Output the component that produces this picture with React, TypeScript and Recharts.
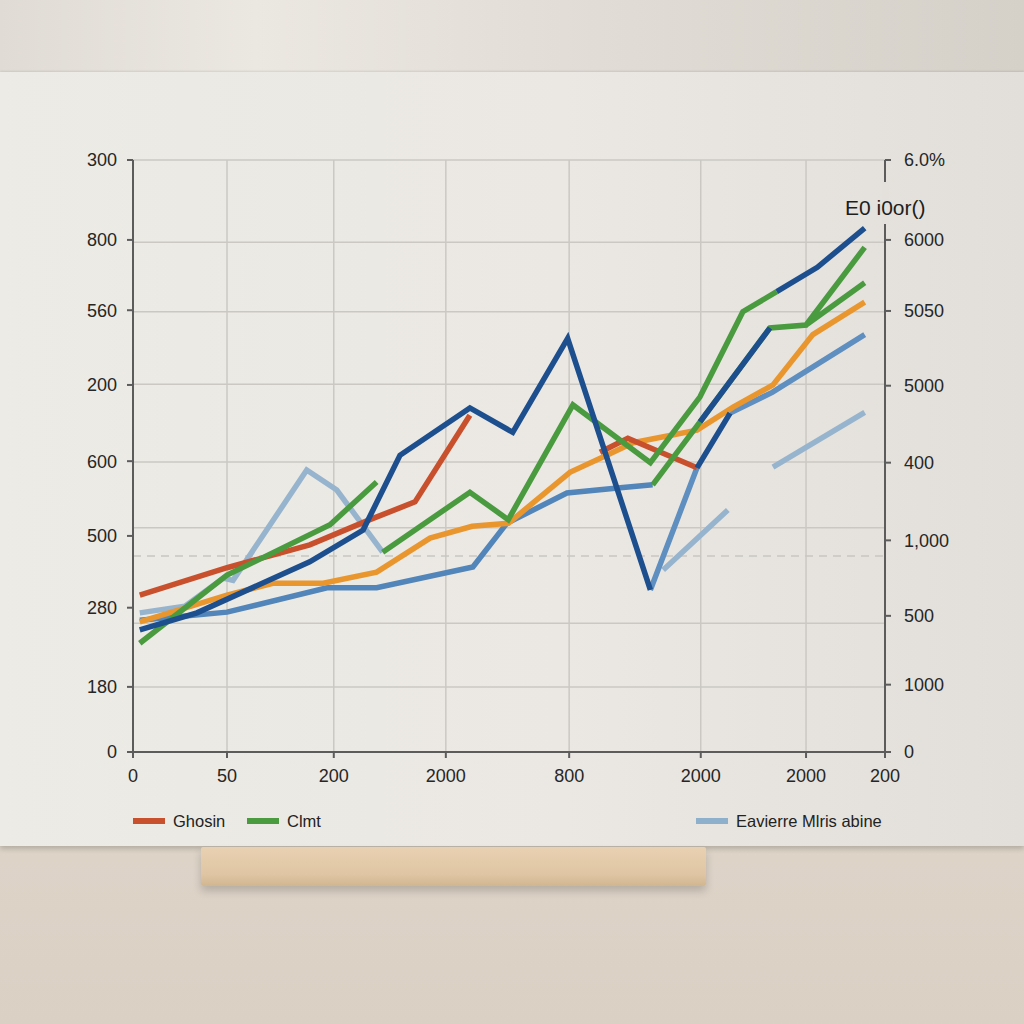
import React from 'react';
import {
  LineChart,
  Line,
  XAxis,
  YAxis,
  CartesianGrid,
} from 'recharts';

// axis ticks (positions in chart units) and their printed labels
const xTicks = [0, 12.5, 26.7, 41.6, 58, 75.5, 89.5, 100];
const xLabels = ['0', '50', '200', '2000', '800', '2000', '2000', '200'];

const leftTicks = [0, 88, 195, 292, 393, 496, 597, 692, 800];
const leftLabels = ['0', '180', '280', '500', '600', '200', '560', '800', '300'];

const rightTicks = [0, 91, 184, 286, 391, 495, 596, 692, 800];
const rightLabels = ['0', '1000', '500', '1,000', '400', '5000', '5050', '6000', '6.0%'];

const gridTicks = [0, 88, 174, 303, 392, 497, 595, 689, 800];

// faint dashed guide line
const dashed = [{ x: 0, y: 265 }, { x: 100, y: 265 }];

const cornerLabel = 'E0 i0or()';

// series (null = break in the line)
const red = [
  { x: 0.9, y: 212 }, { x: 12.5, y: 249 }, { x: 23.5, y: 280 }, { x: 31.5, y: 314 },
  { x: 37.5, y: 338 }, { x: 44.8, y: 455 }, { x: 53, y: null },
  { x: 62.1, y: 405 }, { x: 65.8, y: 424 }, { x: 75, y: 384 },
];

const green = [
  { x: 0.9, y: 147 }, { x: 12.5, y: 239 }, { x: 26.2, y: 307 }, { x: 32.4, y: 365 }, { x: 32.8, y: null },
  { x: 33.2, y: 270 }, { x: 44.8, y: 351 }, { x: 49.9, y: 314 }, { x: 58.5, y: 469 }, { x: 68.8, y: 391 },
  { x: 75.4, y: 480 }, { x: 81.1, y: 595 }, { x: 85.6, y: 622 }, { x: 86, y: null },
  { x: 69.1, y: 361 }, { x: 75.4, y: 446 }, { x: 84.7, y: 573 }, { x: 89.5, y: 577 }, { x: 97.3, y: 682 }, { x: 97.5, y: null },
  { x: 89.5, y: 577 }, { x: 97.3, y: 634 },
];

const navy = [
  { x: 0.9, y: 165 }, { x: 8.5, y: 188 }, { x: 23.5, y: 257 }, { x: 30.6, y: 300 }, { x: 35.5, y: 401 },
  { x: 44.8, y: 465 }, { x: 50.5, y: 432 }, { x: 57.8, y: 559 }, { x: 68.8, y: 219 }, { x: 70, y: null },
  { x: 75, y: 384 }, { x: 79.4, y: 458 }, { x: 80, y: null },
  { x: 75.4, y: 446 }, { x: 84.7, y: 573 }, { x: 85, y: null },
  { x: 85.6, y: 622 }, { x: 91, y: 655 }, { x: 97.3, y: 708 },
];

const orange = [
  { x: 0.9, y: 176 }, { x: 12.5, y: 212 }, { x: 18.6, y: 228 }, { x: 25.3, y: 228 }, { x: 32.4, y: 243 },
  { x: 39.5, y: 289 }, { x: 45.1, y: 305 }, { x: 49.9, y: 309 }, { x: 58.1, y: 378 }, { x: 63, y: 401 },
  { x: 66.5, y: 418 }, { x: 75, y: 435 }, { x: 79.8, y: 466 }, { x: 85.1, y: 496 }, { x: 90.4, y: 564 },
  { x: 97.3, y: 608 },
];

const steel = [
  { x: 68.8, y: 219 }, { x: 75, y: 384 }, { x: 76, y: null },
  { x: 79.4, y: 458 }, { x: 85, y: 486 }, { x: 97.3, y: 564 },
];

const lowerBlue = [
  { x: 0.9, y: 178 }, { x: 12.5, y: 189 }, { x: 25.8, y: 222 }, { x: 32.4, y: 222 }, { x: 45.2, y: 250 },
  { x: 49.7, y: 309 }, { x: 57.7, y: 350 }, { x: 64.8, y: 357 }, { x: 69.1, y: 361 },
];

const lightBlue = [
  { x: 0.9, y: 188 }, { x: 6.9, y: 197 }, { x: 12, y: 235 }, { x: 13.3, y: 232 }, { x: 23.1, y: 381 },
  { x: 27.1, y: 354 }, { x: 33.2, y: 270 }, { x: 40, y: null },
  { x: 70.5, y: 246 }, { x: 79.1, y: 327 }, { x: 80, y: null },
  { x: 85.1, y: 385 }, { x: 97.3, y: 459 },
];

const legendNames = ['Ghosin', 'Clmt', 'Eavierre Mlris abine'];
const legendColors = ['#c9502c', '#4a9b40', '#8fb0cd'];

const font = '"Liberation Sans", Arial, sans-serif';
const axisColor = '#5c5c5c';
const lineWidth = 5.5;

const App: React.FC = () => {
  const tickStyle = { fill: '#262626', fontSize: 18, fontFamily: font };

  return (
    <div
      style={{
        position: 'absolute',
        top: 0,
        left: 0,
        width: 1024,
        height: 1024,
        overflow: 'hidden',
        background: 'linear-gradient(180deg, #e0d7cc 0%, #e5ddd3 30%, #dbd0c4 100%)',
        fontFamily: font,
      }}
    >
      {/* wall */}
      <div
        style={{
          position: 'absolute', left: 0, top: 0, width: 1024, height: 72,
          background: 'linear-gradient(90deg, #e0dcd5 0%, #ebe7e1 25%, #dfdad3 65%, #d5d0c8 100%)',
        }}
      />
      {/* board */}
      <div
        style={{
          position: 'absolute', left: 0, top: 72, width: 1024, height: 774,
          background: 'linear-gradient(90deg, #ecebe6 0%, #ebe8e3 55%, #e2dfda 100%)',
          boxShadow: '0 -1px 2px rgba(0,0,0,0.08), 0 3px 5px rgba(0,0,0,0.18)',
        }}
      />
      {/* wooden stand */}
      <div
        style={{
          position: 'absolute', left: 201, top: 847, width: 505, height: 39,
          background: 'linear-gradient(180deg, #e8d1b2 0%, #dfc5a3 70%, #d1b690 100%)',
          borderRadius: 2,
          boxShadow: '0 5px 8px rgba(0,0,0,0.18)',
        }}
      />

      <div style={{ position: 'absolute', left: 0, top: 0 }}>
        <LineChart width={1024} height={800} margin={{ top: 160, right: 39, left: 73, bottom: 8 }}>
          <CartesianGrid
            yAxisId="left"
            stroke="#cbc8c3"
            strokeWidth={1.5}
            verticalValues={xTicks.slice(1, -1)}
            horizontalValues={gridTicks}
          />
          <XAxis
            dataKey="x"
            type="number"
            domain={[0, 100]}
            ticks={xTicks}
            tickFormatter={(_v: number, i: number) => xLabels[i]}
            tick={tickStyle}
            stroke={axisColor}
            strokeWidth={2}
            tickSize={6}
            tickMargin={11}
            height={40}
            interval={0}
          />
          <YAxis
            yAxisId="left"
            domain={[0, 800]}
            ticks={leftTicks}
            tickFormatter={(_v: number, i: number) => leftLabels[i]}
            tick={tickStyle}
            stroke={axisColor}
            strokeWidth={2}
            tickSize={6}
            tickMargin={10}
            width={60}
            interval={0}
          />
          <YAxis
            yAxisId="right"
            orientation="right"
            domain={[0, 800]}
            ticks={rightTicks}
            tickFormatter={(_v: number, i: number) => rightLabels[i]}
            tick={tickStyle}
            stroke={axisColor}
            strokeWidth={2}
            tickSize={6}
            tickMargin={13}
            width={100}
            interval={0}
          />

          <Line yAxisId="right" data={dashed} dataKey="y" type="linear" stroke="#c9c6c1" strokeWidth={1.5} strokeDasharray="8 6" dot={false} activeDot={false} isAnimationActive={false} />
          <Line yAxisId="left" data={lightBlue} dataKey="y" type="linear" stroke="#97b4ce" strokeWidth={lineWidth} dot={false} activeDot={false} isAnimationActive={false} />
          <Line yAxisId="left" data={lowerBlue} dataKey="y" type="linear" stroke="#5285ba" strokeWidth={lineWidth} dot={false} activeDot={false} isAnimationActive={false} />
          <Line yAxisId="left" data={steel} dataKey="y" type="linear" stroke="#5e8fc0" strokeWidth={lineWidth} dot={false} activeDot={false} isAnimationActive={false} />
          <Line yAxisId="left" data={orange} dataKey="y" type="linear" stroke="#e9962e" strokeWidth={lineWidth} dot={false} activeDot={false} isAnimationActive={false} />
          <Line yAxisId="left" data={red} dataKey="y" type="linear" stroke="#c9502c" strokeWidth={lineWidth} dot={false} activeDot={false} isAnimationActive={false} />
          <Line yAxisId="left" data={green} dataKey="y" type="linear" stroke="#4a9b40" strokeWidth={lineWidth} dot={false} activeDot={false} isAnimationActive={false} />
          <Line yAxisId="left" data={navy} dataKey="y" type="linear" stroke="#1d4f8f" strokeWidth={lineWidth} dot={false} activeDot={false} isAnimationActive={false} />
        </LineChart>
      </div>

      {/* break in the right axis behind the label */}
      <div style={{ position: 'absolute', left: 882, top: 182, width: 7, height: 42, background: '#e4e1dc' }} />
      <div
        style={{
          position: 'absolute', left: 845, top: 193, color: '#1e1e1e', fontSize: 21,
          lineHeight: '30px', whiteSpace: 'nowrap',
        }}
      >
        {cornerLabel}
      </div>

      {/* legend */}
      {legendNames.map((name, i) => {
        const left = [133, 247, 696][i];
        return (
          <div
            key={name}
            style={{
              position: 'absolute', left, top: 810, height: 22,
              display: 'flex', alignItems: 'center', whiteSpace: 'nowrap',
              fontSize: 16.5, color: '#222',
            }}
          >
            <span style={{ display: 'inline-block', width: 32, height: 6, background: legendColors[i], marginRight: 8 }} />
            {name}
          </div>
        );
      })}
    </div>
  );
};

export default App;
